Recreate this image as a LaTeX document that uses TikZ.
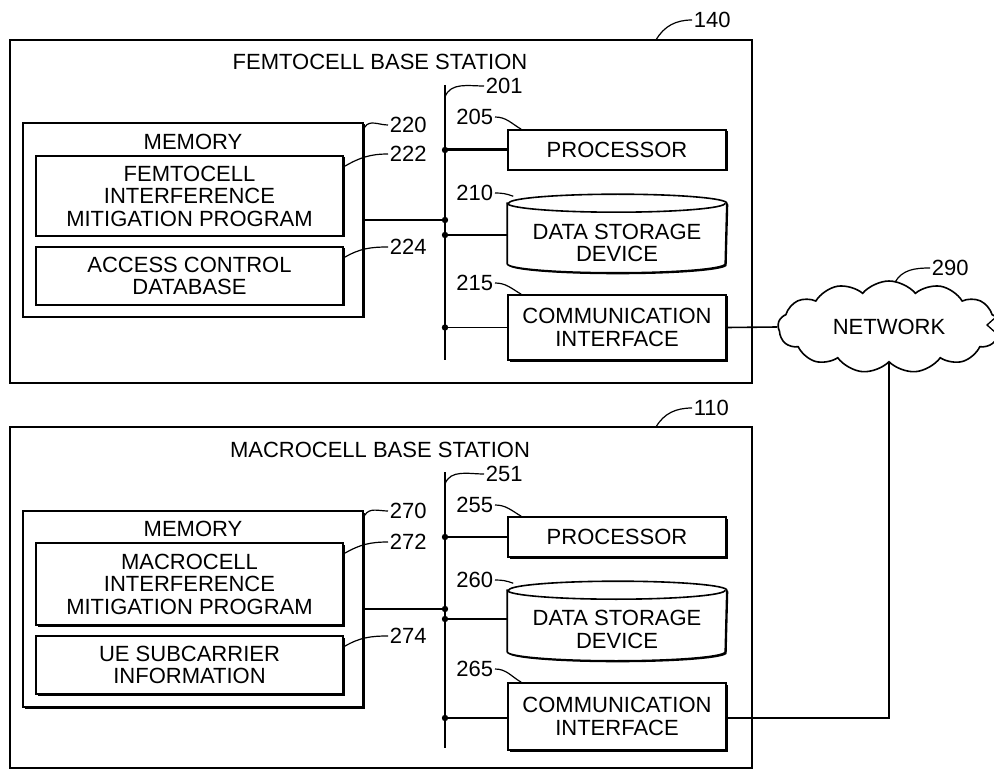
\documentclass[tikz,border=0pt]{standalone}
\usepackage{fontspec}
\setmainfont{Liberation Sans}
\usetikzlibrary{shapes.symbols,shadows}
\begin{document}
\begin{tikzpicture}[x=1pt,y=-1pt,
  font=\fontsize{22}{22.5}\selectfont,
  line width=1.6pt,
  outerbox/.style={draw, inner sep=0pt},
  box/.style={draw, fill=white, align=center, inner sep=0pt,
    drop shadow={shadow xshift=1.5pt, shadow yshift=-1.5pt, opacity=1, fill=black}},
  plain/.style={inner sep=0pt, align=center},
  num/.style={inner sep=1pt, anchor=west},
  lead/.style={line width=1.2pt},
  dot/.style={fill=black, draw=none},
  thickline/.style={line width=3pt}
]
\useasboundingbox (0,0) rectangle (994,770);

% ================= FEMTOCELL =================
\node[outerbox, minimum width=742pt, minimum height=343pt] (fem) at (381,211.5) {};
\node[plain] (femt) at (380,62) {FEMTOCELL BASE STATION};
\node[num] (n140) at (692,20) {140};
\draw[lead] (656,40) to[out=60,in=180] (n140.west);

\coordinate (b1t) at (445,85);
\coordinate (b1b) at (445,360);
\draw (b1t) -- (b1b);
\node[num] (n201) at (484,86) {201};
\draw[lead] ([yshift=-12pt]b1t) to[out=70,in=180] (n201.west);

\node[box, minimum width=340pt, minimum height=194pt] (mem1) at (193,220) {};
\node[plain] (mem1t) at (193,142) {MEMORY};
\node[box, minimum width=307pt, minimum height=80pt] (fprog) at (189.5,196) {FEMTOCELL\\INTERFERENCE\\MITIGATION PROGRAM};
\node[box, minimum width=307pt, minimum height=58pt] (acdb) at (189.5,276) {ACCESS CONTROL\\DATABASE};
\node[num] (n220) at (388,125) {220};
\node[num] (n222) at (388,154) {222};
\node[num] (n224) at (388,247) {224};
\draw[lead] (mem1.north east) ++(1,5) to[out=60,in=180] (n220.west);
\draw[lead] (fprog.north east) ++(1,11) to[out=30,in=180] (n222.west);
\draw[lead] (acdb.north east) ++(1,11) to[out=30,in=180] (n224.west);

\node[box, minimum width=218pt, minimum height=40pt] (proc1) at (617,150) {PROCESSOR};
\node[num, anchor=east] (n205) at (495,117) {205};
\draw[lead] (n205.east) to[out=0,in=150] ([xshift=14pt]proc1.north west);

\node[plain, minimum width=218pt, minimum height=77pt] (cyl1) at (617,233.5) {};
\draw[fill=white, drop shadow={shadow xshift=1.5pt, shadow yshift=-1.5pt, opacity=1, fill=black}]
  ([yshift=-9pt]cyl1.north west) -- ([yshift=9pt]cyl1.south west)
  arc[start angle=180, end angle=360, x radius=109pt, y radius=9pt]
  -- ([yshift=-9pt]cyl1.north east)
  arc[start angle=0, end angle=180, x radius=109pt, y radius=9pt] -- cycle;
\draw ([yshift=-9pt]cyl1.north west) arc[start angle=180, end angle=360, x radius=109pt, y radius=9pt];
\node[plain] (cyl1t) at (617,243) {DATA STORAGE\\DEVICE};
\node[num, anchor=east] (n210) at (495,193) {210};
\draw[lead] (n210.east) to[out=0,in=160] ([xshift=6pt,yshift=-2pt]cyl1.north west);

\node[box, minimum width=218pt, minimum height=65pt] (comm1) at (617,327.5) {COMMUNICATION\\INTERFACE};
\node[num, anchor=east] (n215) at (495,283) {215};
\draw[lead] (n215.east) to[out=0,in=150] ([xshift=14pt]comm1.north west);

% bus connections (femto)
\draw[thickline] (proc1.west -| b1t) -- (proc1.west);
\draw (mem1.east) -- (mem1.east -| b1t);
\draw ([yshift=-1.5pt]cyl1.west -| b1t) -- ([yshift=-1.5pt]cyl1.west);
\draw (comm1.west -| b1t) -- (comm1.west);
\fill[dot] (proc1.west -| b1t) circle[radius=3.2pt];
\fill[dot] (mem1.east -| b1t) circle[radius=3.2pt];
\fill[dot] ([yshift=-1.5pt]cyl1.west -| b1t) circle[radius=3.2pt];
\fill[dot] (comm1.west -| b1t) circle[radius=3.2pt];

% ================= NETWORK =================
\node[cloud, draw, fill=white, cloud puffs=13, cloud puff arc=100, aspect=2.4,
      minimum width=222pt, minimum height=92pt, inner sep=0pt] (net) at (889,327) {NETWORK};
\node[num] (n290) at (930,268) {290};
\draw[lead] ([xshift=6pt,yshift=-2pt]net.north) to[out=60,in=180] (n290.west);
\draw (comm1.east) -- (net.west);
\coordinate (arrtip) at (987,325);
\coordinate (arrup) at (996,317);
\coordinate (arrdn) at (996,333);
\draw[line width=1.3pt] (arrup) -- (arrtip) -- (arrdn);

% ================= MACROCELL =================
\node[outerbox, minimum width=742pt, minimum height=341pt] (mac) at (381,597.5) {};
\node[plain] (mact) at (380,450) {MACROCELL BASE STATION};
\node[num] (n110) at (692,408) {110};
\draw[lead] (656,427) to[out=60,in=180] (n110.west);

\coordinate (b2t) at (445,472);
\coordinate (b2b) at (445,748);
\draw (b2t) -- (b2b);
\node[num] (n251) at (484,474) {251};
\draw[lead] ([yshift=-12pt]b2t) to[out=70,in=180] (n251.west);

\node[box, minimum width=340pt, minimum height=196pt] (mem2) at (193,609) {};
\node[plain] (mem2t) at (193,529) {MEMORY};
\node[box, minimum width=307pt, minimum height=82pt] (mprog) at (189.5,584) {MACROCELL\\INTERFERENCE\\MITIGATION PROGRAM};
\node[box, minimum width=307pt, minimum height=58pt] (ueinfo) at (189.5,665) {UE SUBCARRIER\\INFORMATION};
\node[num] (n270) at (388,511) {270};
\node[num] (n272) at (388,542) {272};
\node[num] (n274) at (388,636) {274};
\draw[lead] (mem2.north east) ++(1,5) to[out=60,in=180] (n270.west);
\draw[lead] (mprog.north east) ++(1,11) to[out=30,in=180] (n272.west);
\draw[lead] (ueinfo.north east) ++(1,11) to[out=30,in=180] (n274.west);

\node[box, minimum width=218pt, minimum height=40pt] (proc2) at (617,537) {PROCESSOR};
\node[num, anchor=east] (n255) at (495,505) {255};
\draw[lead] (n255.east) to[out=0,in=150] ([xshift=14pt]proc2.north west);

\node[plain, minimum width=218pt, minimum height=78pt] (cyl2) at (617,621) {};
\draw[fill=white, drop shadow={shadow xshift=1.5pt, shadow yshift=-1.5pt, opacity=1, fill=black}]
  ([yshift=-9pt]cyl2.north west) -- ([yshift=9pt]cyl2.south west)
  arc[start angle=180, end angle=360, x radius=109pt, y radius=9pt]
  -- ([yshift=-9pt]cyl2.north east)
  arc[start angle=0, end angle=180, x radius=109pt, y radius=9pt] -- cycle;
\draw ([yshift=-9pt]cyl2.north west) arc[start angle=180, end angle=360, x radius=109pt, y radius=9pt];
\node[plain] (cyl2t) at (617,629.5) {DATA STORAGE\\DEVICE};
\node[num, anchor=east] (n260) at (495,580) {260};
\draw[lead] (n260.east) to[out=0,in=160] ([xshift=6pt,yshift=-2pt]cyl2.north west);

\node[box, minimum width=218pt, minimum height=67pt] (comm2) at (617,716.5) {COMMUNICATION\\INTERFACE};
\node[num, anchor=east] (n265) at (495,669) {265};
\draw[lead] (n265.east) to[out=0,in=150] ([xshift=14pt]comm2.north west);

% bus connections (macro)
\draw (proc2.west -| b2t) -- (proc2.west);
\draw (mem2.east) -- (mem2.east -| b2t);
\draw ([yshift=2pt]cyl2.west -| b2t) -- ([yshift=2pt]cyl2.west);
\draw ([yshift=-1.5pt]comm2.west -| b2t) -- ([yshift=-1.5pt]comm2.west);
\fill[dot] (proc2.west -| b2t) circle[radius=3.2pt];
\fill[dot] (mem2.east -| b2t) circle[radius=3.2pt];
\fill[dot] ([yshift=2pt]cyl2.west -| b2t) circle[radius=3.2pt];
\fill[dot] ([yshift=-1.5pt]comm2.west -| b2t) circle[radius=3.2pt];

% network to macro comm interface
\draw (net.south) |- ([yshift=-1.5pt]comm2.east);
\end{tikzpicture}
\end{document}
